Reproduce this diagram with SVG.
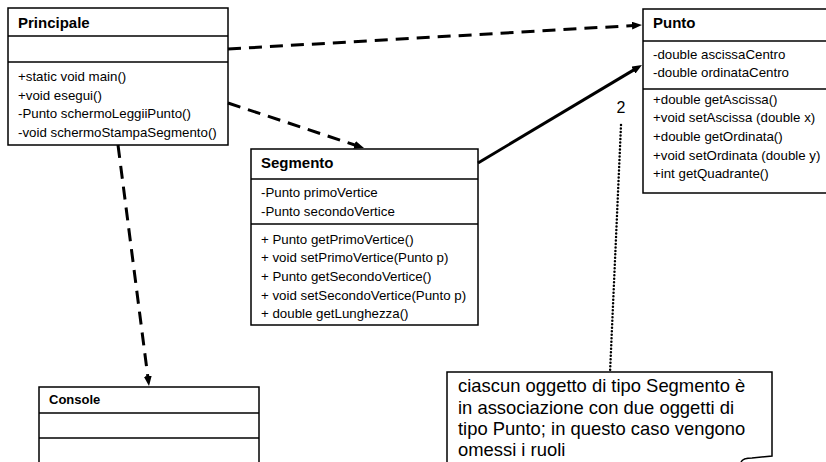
<svg xmlns="http://www.w3.org/2000/svg" width="826" height="462" viewBox="0 0 826 462">
  <style>
    .box { fill: #ffffff; stroke: #000000; stroke-width: 1.5; }
    .sep { stroke: #000000; stroke-width: 1.5; }
    .title { font-family: "Liberation Sans", Arial, sans-serif; font-weight: bold; font-size: 15px; fill: #000; }
    .member { font-family: "Liberation Sans", Arial, sans-serif; font-size: 13.3px; fill: #000; }
    .note { font-family: "Liberation Sans", Arial, sans-serif; font-size: 18.4px; fill: #000; }
    .dep { fill: none; stroke: #000; stroke-width: 3; stroke-dasharray: 13 8; }
    .assoc { fill: none; stroke: #000; stroke-width: 3; }
    .anchor { fill: none; stroke: #000; stroke-width: 2.5; stroke-dasharray: 0 3.5; stroke-linecap: round; }
  </style>
  <defs>
    <marker id="head" markerUnits="userSpaceOnUse" markerWidth="10" markerHeight="8" refX="2" refY="4" orient="auto">
      <path d="M0,0 L10,4 L0,8 z" fill="#000"/>
    </marker>
  </defs>

  <rect width="826" height="462" fill="#ffffff"/>

  <!-- class Principale -->
  <g id="principale">
    <rect class="box" x="8" y="8" width="220" height="137"/>
    <line class="sep" x1="8" y1="36" x2="228" y2="36"/>
    <line class="sep" x1="8" y1="62" x2="228" y2="62"/>
    <text class="title" x="18" y="28">Principale</text>
    <text class="member" x="18" y="81">+static void main()</text>
    <text class="member" x="18" y="99.5">+void esegui()</text>
    <text class="member" x="18" y="118">-Punto schermoLeggiiPunto()</text>
    <text class="member" x="18" y="136.5">-void schermoStampaSegmento()</text>
  </g>

  <!-- class Punto -->
  <g id="punto">
    <rect class="box" x="643" y="9" width="200" height="184"/>
    <line class="sep" x1="643" y1="41" x2="843" y2="41"/>
    <line class="sep" x1="643" y1="89" x2="843" y2="89"/>
    <text class="title" x="653" y="28">Punto</text>
    <text class="member" x="653" y="59">-double ascissaCentro</text>
    <text class="member" x="653" y="77">-double ordinataCentro</text>
    <text class="member" x="653" y="103.5">+double getAscissa()</text>
    <text class="member" x="653" y="122">+void setAscissa (double x)</text>
    <text class="member" x="653" y="141">+double getOrdinata()</text>
    <text class="member" x="653" y="159.5">+void setOrdinata (double y)</text>
    <text class="member" x="653" y="178">+int getQuadrante()</text>
  </g>

  <!-- class Segmento -->
  <g id="segmento">
    <rect class="box" x="251" y="149" width="227" height="176"/>
    <line class="sep" x1="251" y1="179" x2="478" y2="179"/>
    <line class="sep" x1="251" y1="224" x2="478" y2="224"/>
    <text class="title" x="261" y="168">Segmento</text>
    <text class="member" x="261" y="197">-Punto primoVertice</text>
    <text class="member" x="261" y="216">-Punto secondoVertice</text>
    <text class="member" x="261" y="243.5">+ Punto getPrimoVertice()</text>
    <text class="member" x="261" y="262">+ void setPrimoVertice(Punto p)</text>
    <text class="member" x="261" y="280.5">+ Punto getSecondoVertice()</text>
    <text class="member" x="261" y="299.5">+ void setSecondoVertice(Punto p)</text>
    <text class="member" x="261" y="318">+ double getLunghezza()</text>
  </g>

  <!-- class Console -->
  <g id="console">
    <rect class="box" x="39" y="387" width="220" height="100"/>
    <line class="sep" x1="39" y1="413" x2="259" y2="413"/>
    <line class="sep" x1="39" y1="438" x2="259" y2="438"/>
    <text class="title" x="49" y="404" style="font-size:13px">Console</text>
  </g>

  <!-- comment note with curled corner -->
  <g id="nota">
    <path class="box" d="M447,470 L447,372 L772,372 L772,456 L752,458 Q743,458 741,462"/>
    <text class="note" x="458" y="392">ciascun oggetto di tipo Segmento è</text>
    <text class="note" x="458" y="413.5">in associazione con due oggetti di</text>
    <text class="note" x="458" y="435">tipo Punto; in questo caso vengono</text>
    <text class="note" x="458" y="456">omessi i ruoli</text>
  </g>

  <!-- connectors -->
  <g id="connectors">
    <line class="dep" x1="228" y1="49" x2="634" y2="25.5" marker-end="url(#head)"/>
    <line class="dep" x1="228" y1="103" x2="356.4" y2="145.5" marker-end="url(#head)"/>
    <line class="assoc" x1="478" y1="163" x2="635.1" y2="69.1" marker-end="url(#head)"/>
    <line class="dep" x1="118" y1="145" x2="148" y2="378.1" marker-end="url(#head)"/>
    <line class="anchor" x1="621" y1="125" x2="610" y2="373"/>
    <text x="621" y="113" text-anchor="middle" style="font-family:'Liberation Sans', Arial, sans-serif; font-size:16px">2</text>
  </g>
</svg>
